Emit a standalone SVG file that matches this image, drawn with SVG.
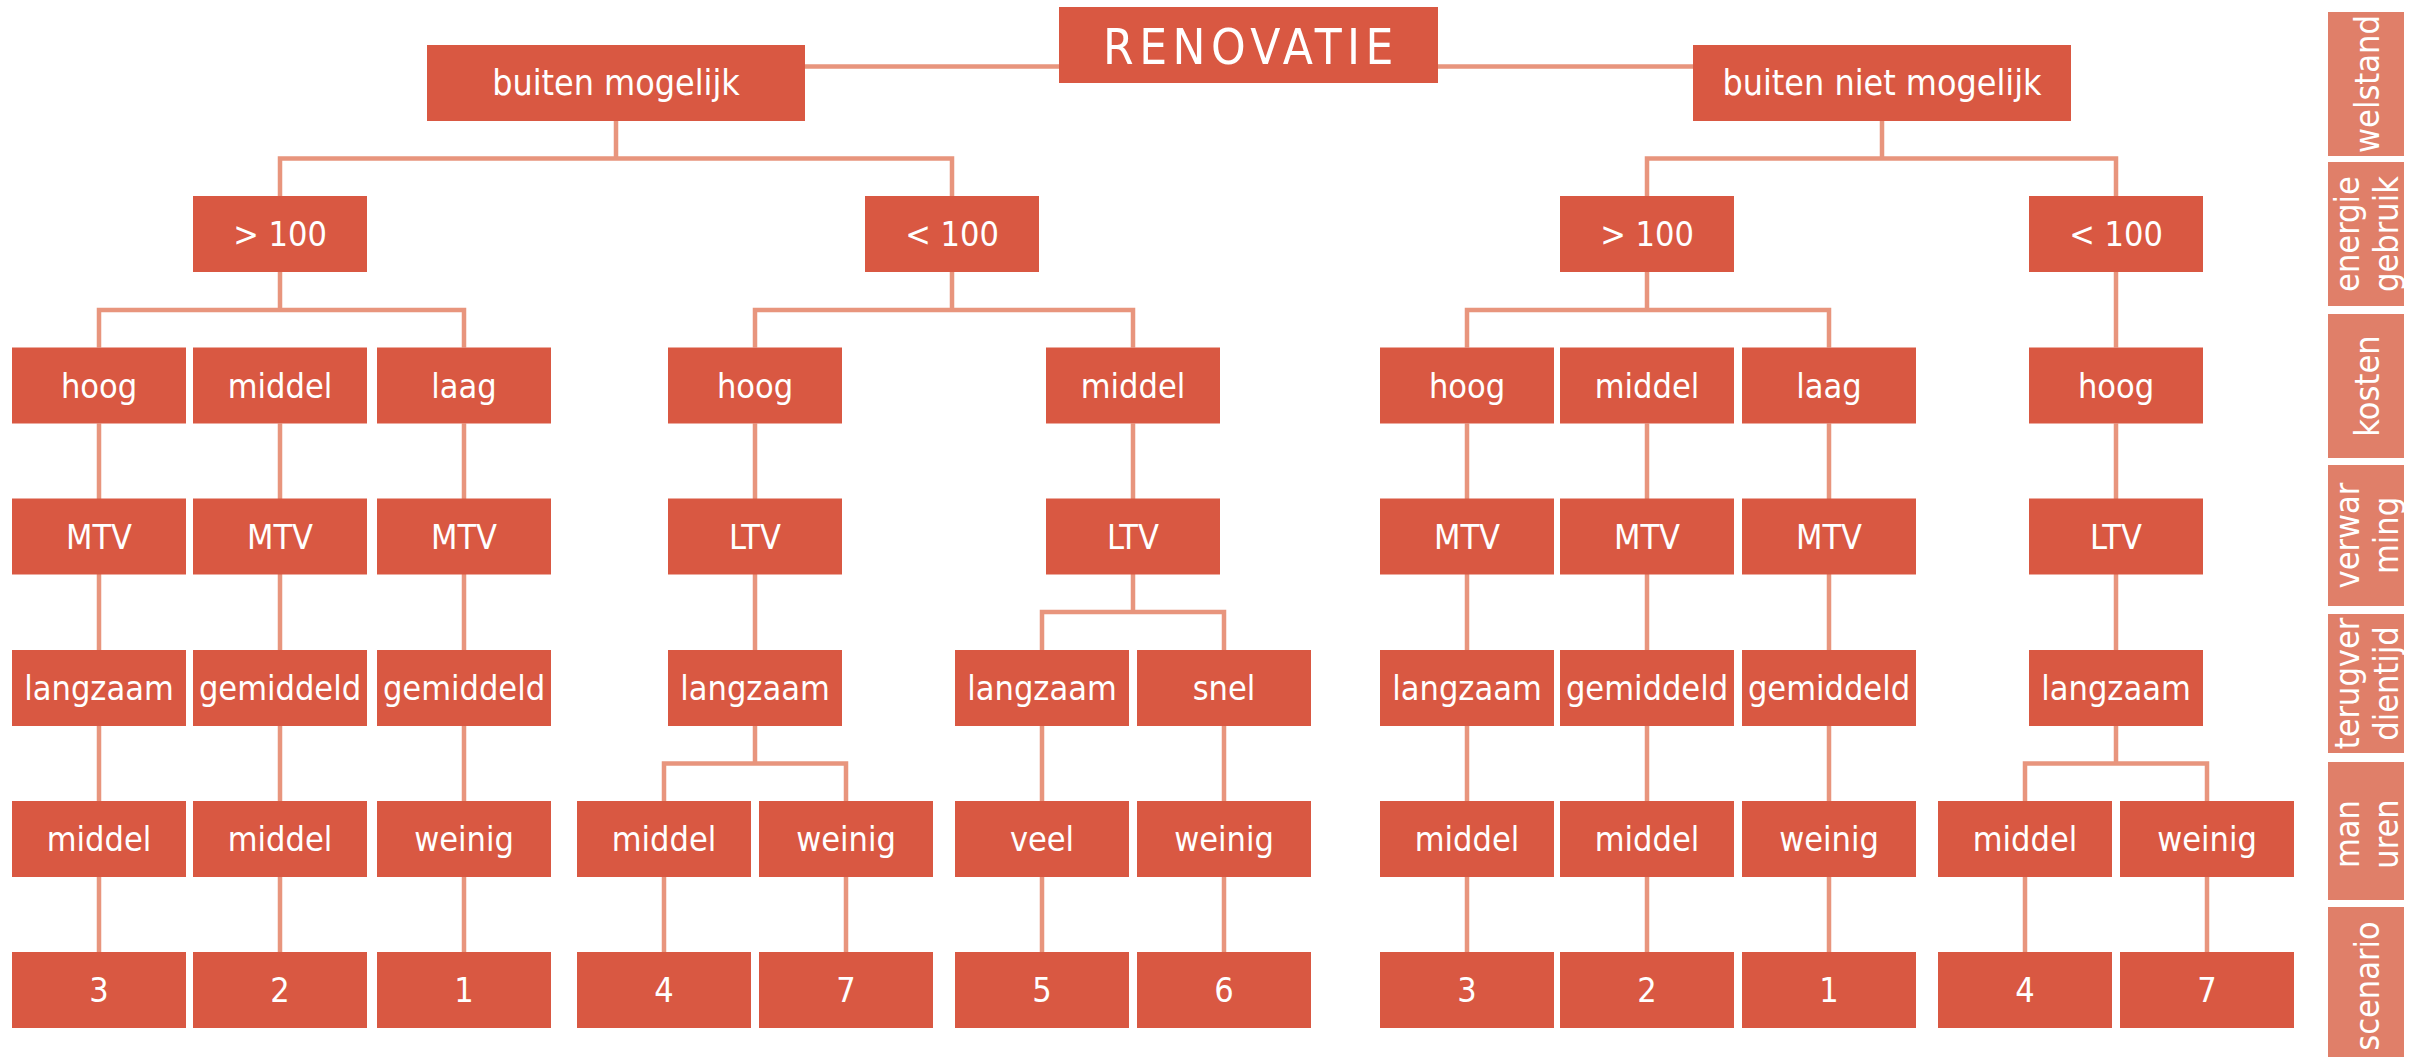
<svg xmlns="http://www.w3.org/2000/svg" width="2420" height="1057" viewBox="0 0 2420 1057">
  <style>
    .box { fill: #D95842; }
    .side { fill: #E07F69; }
    .t { font-family: 'DejaVu Sans Condensed', 'DejaVu Sans', sans-serif; font-stretch: condensed; font-size: 34px; fill: #FFFFFF; text-anchor: middle; }
    .big { font-size: 35.5px; }
    .title { font-size: 49px; letter-spacing: 5.5px; }
    .links path { fill: none; stroke: #E8957D; stroke-width: 4.5; }
  </style>
  <rect width="2420" height="1057" fill="#FFFFFF"/>

  <!-- connectors -->
  <g class="links" id="connectors">
    <path d="M805 66.5 H1059 M1438 66.5 H1693"/>
    <path d="M616 121 V158.5 M280 196 V158.5 H952 V196"/>
    <path d="M1882 121 V158.5 M1647 196 V158.5 H2116 V196"/>
    <path d="M280 272 V310 M99 347.5 V310 H464 V347.5"/>
    <path d="M952 272 V310 M755 347.5 V310 H1133 V347.5"/>
    <path d="M1647 272 V310 M1467 347.5 V310 H1829 V347.5"/>
    <path d="M2116 272 V347.5"/>
    <path d="M99 423.5 V952 M280 423.5 V952 M464 423.5 V952"/>
    <path d="M1467 423.5 V952 M1647 423.5 V952 M1829 423.5 V952"/>
    <path d="M755 423.5 V763.5 M664 801 V763.5 H846 V801 M664 877 V952 M846 877 V952"/>
    <path d="M1133 423.5 V612 M1042 650 V612 H1224 V650 M1042 726 V952 M1224 726 V952"/>
    <path d="M2116 423.5 V763.5 M2025 801 V763.5 H2207 V801 M2025 877 V952 M2207 877 V952"/>
  </g>

  <!-- root -->
  <g id="renovatie"><rect class="box" x="1059" y="7" width="379" height="76"/><text class="t title" x="1251" y="64">RENOVATIE</text></g>

  <!-- welstand -->
  <g id="buiten-mogelijk"><rect class="box" x="427" y="45" width="378" height="76"/><text class="t big" x="616" y="95">buiten mogelijk</text></g>
  <g id="buiten-niet-mogelijk"><rect class="box" x="1693" y="45" width="378" height="76"/><text class="t big" x="1882" y="95">buiten niet mogelijk</text></g>

  <!-- energiegebruik -->
  <g id="a-gt100"><rect class="box" x="193" y="196" width="174" height="76"/><text class="t" x="280" y="246">&gt; 100</text></g>
  <g id="a-lt100"><rect class="box" x="865" y="196" width="174" height="76"/><text class="t" x="952" y="246">&lt; 100</text></g>
  <g id="b-gt100"><rect class="box" x="1560" y="196" width="174" height="76"/><text class="t" x="1647" y="246">&gt; 100</text></g>
  <g id="b-lt100"><rect class="box" x="2029" y="196" width="174" height="76"/><text class="t" x="2116" y="246">&lt; 100</text></g>

  <!-- kosten -->
  <g id="k1"><rect class="box" x="12" y="347.5" width="174" height="76"/><text class="t" x="99" y="397.5">hoog</text></g>
  <g id="k2"><rect class="box" x="193" y="347.5" width="174" height="76"/><text class="t" x="280" y="397.5">middel</text></g>
  <g id="k3"><rect class="box" x="377" y="347.5" width="174" height="76"/><text class="t" x="464" y="397.5">laag</text></g>
  <g id="k4"><rect class="box" x="668" y="347.5" width="174" height="76"/><text class="t" x="755" y="397.5">hoog</text></g>
  <g id="k5"><rect class="box" x="1046" y="347.5" width="174" height="76"/><text class="t" x="1133" y="397.5">middel</text></g>
  <g id="k6"><rect class="box" x="1380" y="347.5" width="174" height="76"/><text class="t" x="1467" y="397.5">hoog</text></g>
  <g id="k7"><rect class="box" x="1560" y="347.5" width="174" height="76"/><text class="t" x="1647" y="397.5">middel</text></g>
  <g id="k8"><rect class="box" x="1742" y="347.5" width="174" height="76"/><text class="t" x="1829" y="397.5">laag</text></g>
  <g id="k9"><rect class="box" x="2029" y="347.5" width="174" height="76"/><text class="t" x="2116" y="397.5">hoog</text></g>

  <!-- verwarming -->
  <g id="v1"><rect class="box" x="12" y="498.5" width="174" height="76"/><text class="t" x="99" y="548.5">MTV</text></g>
  <g id="v2"><rect class="box" x="193" y="498.5" width="174" height="76"/><text class="t" x="280" y="548.5">MTV</text></g>
  <g id="v3"><rect class="box" x="377" y="498.5" width="174" height="76"/><text class="t" x="464" y="548.5">MTV</text></g>
  <g id="v4"><rect class="box" x="668" y="498.5" width="174" height="76"/><text class="t" x="755" y="548.5">LTV</text></g>
  <g id="v5"><rect class="box" x="1046" y="498.5" width="174" height="76"/><text class="t" x="1133" y="548.5">LTV</text></g>
  <g id="v6"><rect class="box" x="1380" y="498.5" width="174" height="76"/><text class="t" x="1467" y="548.5">MTV</text></g>
  <g id="v7"><rect class="box" x="1560" y="498.5" width="174" height="76"/><text class="t" x="1647" y="548.5">MTV</text></g>
  <g id="v8"><rect class="box" x="1742" y="498.5" width="174" height="76"/><text class="t" x="1829" y="548.5">MTV</text></g>
  <g id="v9"><rect class="box" x="2029" y="498.5" width="174" height="76"/><text class="t" x="2116" y="548.5">LTV</text></g>

  <!-- terugverdientijd -->
  <g id="r1"><rect class="box" x="12" y="650" width="174" height="76"/><text class="t" x="99" y="700">langzaam</text></g>
  <g id="r2"><rect class="box" x="193" y="650" width="174" height="76"/><text class="t" x="280" y="700">gemiddeld</text></g>
  <g id="r3"><rect class="box" x="377" y="650" width="174" height="76"/><text class="t" x="464" y="700">gemiddeld</text></g>
  <g id="r4"><rect class="box" x="668" y="650" width="174" height="76"/><text class="t" x="755" y="700">langzaam</text></g>
  <g id="r5"><rect class="box" x="955" y="650" width="174" height="76"/><text class="t" x="1042" y="700">langzaam</text></g>
  <g id="r6"><rect class="box" x="1137" y="650" width="174" height="76"/><text class="t" x="1224" y="700">snel</text></g>
  <g id="r7"><rect class="box" x="1380" y="650" width="174" height="76"/><text class="t" x="1467" y="700">langzaam</text></g>
  <g id="r8"><rect class="box" x="1560" y="650" width="174" height="76"/><text class="t" x="1647" y="700">gemiddeld</text></g>
  <g id="r9"><rect class="box" x="1742" y="650" width="174" height="76"/><text class="t" x="1829" y="700">gemiddeld</text></g>
  <g id="r10"><rect class="box" x="2029" y="650" width="174" height="76"/><text class="t" x="2116" y="700">langzaam</text></g>

  <!-- manuren -->
  <g id="m1"><rect class="box" x="12" y="801" width="174" height="76"/><text class="t" x="99" y="851">middel</text></g>
  <g id="m2"><rect class="box" x="193" y="801" width="174" height="76"/><text class="t" x="280" y="851">middel</text></g>
  <g id="m3"><rect class="box" x="377" y="801" width="174" height="76"/><text class="t" x="464" y="851">weinig</text></g>
  <g id="m4"><rect class="box" x="577" y="801" width="174" height="76"/><text class="t" x="664" y="851">middel</text></g>
  <g id="m5"><rect class="box" x="759" y="801" width="174" height="76"/><text class="t" x="846" y="851">weinig</text></g>
  <g id="m6"><rect class="box" x="955" y="801" width="174" height="76"/><text class="t" x="1042" y="851">veel</text></g>
  <g id="m7"><rect class="box" x="1137" y="801" width="174" height="76"/><text class="t" x="1224" y="851">weinig</text></g>
  <g id="m8"><rect class="box" x="1380" y="801" width="174" height="76"/><text class="t" x="1467" y="851">middel</text></g>
  <g id="m9"><rect class="box" x="1560" y="801" width="174" height="76"/><text class="t" x="1647" y="851">middel</text></g>
  <g id="m10"><rect class="box" x="1742" y="801" width="174" height="76"/><text class="t" x="1829" y="851">weinig</text></g>
  <g id="m11"><rect class="box" x="1938" y="801" width="174" height="76"/><text class="t" x="2025" y="851">middel</text></g>
  <g id="m12"><rect class="box" x="2120" y="801" width="174" height="76"/><text class="t" x="2207" y="851">weinig</text></g>

  <!-- scenario -->
  <g id="s1"><rect class="box" x="12" y="952" width="174" height="76"/><text class="t" x="99" y="1002">3</text></g>
  <g id="s2"><rect class="box" x="193" y="952" width="174" height="76"/><text class="t" x="280" y="1002">2</text></g>
  <g id="s3"><rect class="box" x="377" y="952" width="174" height="76"/><text class="t" x="464" y="1002">1</text></g>
  <g id="s4"><rect class="box" x="577" y="952" width="174" height="76"/><text class="t" x="664" y="1002">4</text></g>
  <g id="s5"><rect class="box" x="759" y="952" width="174" height="76"/><text class="t" x="846" y="1002">7</text></g>
  <g id="s6"><rect class="box" x="955" y="952" width="174" height="76"/><text class="t" x="1042" y="1002">5</text></g>
  <g id="s7"><rect class="box" x="1137" y="952" width="174" height="76"/><text class="t" x="1224" y="1002">6</text></g>
  <g id="s8"><rect class="box" x="1380" y="952" width="174" height="76"/><text class="t" x="1467" y="1002">3</text></g>
  <g id="s9"><rect class="box" x="1560" y="952" width="174" height="76"/><text class="t" x="1647" y="1002">2</text></g>
  <g id="s10"><rect class="box" x="1742" y="952" width="174" height="76"/><text class="t" x="1829" y="1002">1</text></g>
  <g id="s11"><rect class="box" x="1938" y="952" width="174" height="76"/><text class="t" x="2025" y="1002">4</text></g>
  <g id="s12"><rect class="box" x="2120" y="952" width="174" height="76"/><text class="t" x="2207" y="1002">7</text></g>

  <!-- level legend on the right -->
  <g id="legend-welstand"><rect class="side" x="2328" y="12" width="76" height="144"/><text class="t" x="2379" y="84" transform="rotate(-90 2379 84)">welstand</text></g>
  <g id="legend-energiegebruik"><rect class="side" x="2328" y="162" width="76" height="144"/><text class="t" x="2359" y="234" transform="rotate(-90 2359 234)">energie</text><text class="t" x="2398" y="234" transform="rotate(-90 2398 234)">gebruik</text></g>
  <g id="legend-kosten"><rect class="side" x="2328" y="314" width="76" height="144"/><text class="t" x="2379" y="386" transform="rotate(-90 2379 386)">kosten</text></g>
  <g id="legend-verwarming"><rect class="side" x="2328" y="465" width="76" height="141"/><text class="t" x="2359" y="535.5" transform="rotate(-90 2359 535.5)">verwar</text><text class="t" x="2398" y="535.5" transform="rotate(-90 2398 535.5)">ming</text></g>
  <g id="legend-terugverdientijd"><rect class="side" x="2328" y="614" width="76" height="139"/><text class="t" x="2359" y="683.5" transform="rotate(-90 2359 683.5)">terugver</text><text class="t" x="2398" y="683.5" transform="rotate(-90 2398 683.5)">dientijd</text></g>
  <g id="legend-manuren"><rect class="side" x="2328" y="762" width="76" height="138"/><text class="t" x="2359" y="834" transform="rotate(-90 2359 834)">man</text><text class="t" x="2398" y="834" transform="rotate(-90 2398 834)">uren</text></g>
  <g id="legend-scenario"><rect class="side" x="2328" y="907" width="76" height="150"/><text class="t" x="2379" y="986" transform="rotate(-90 2379 986)">scenario</text></g>
</svg>
